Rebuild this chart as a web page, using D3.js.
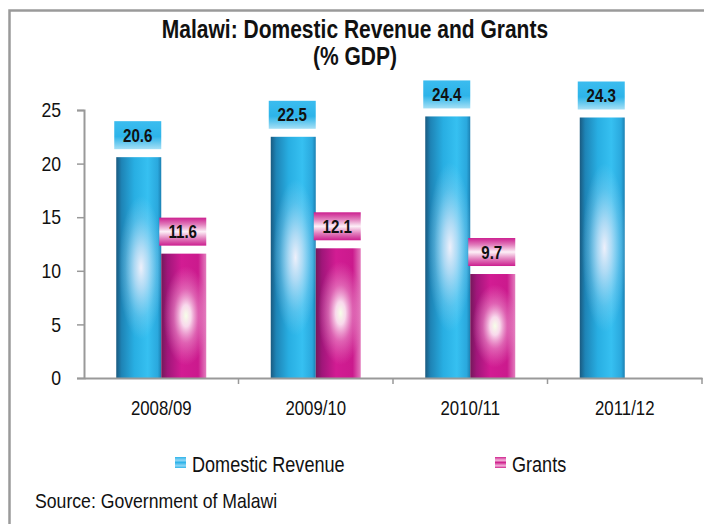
<!DOCTYPE html>
<html>
<head>
<meta charset="utf-8">
<script src="https://cdn.jsdelivr.net/npm/d3@7"></script>
<style>
  html, body { margin: 0; padding: 0; background: #fff; }
  svg { display: block; }
  text { font-family: "Liberation Sans", Arial, sans-serif; fill: #111; }
</style>
</head>
<body>
<svg id="chart" width="704" height="524"></svg>
<script>
// Malawi: domestic revenue and grants, % of GDP
const years = ["2008/09", "2009/10", "2010/11", "2011/12"];
const seriesNames = ["Domestic Revenue", "Grants"];
const domesticRevenue = [20.6, 22.5, 24.4, 24.3];
const grants = [11.6, 12.1, 9.7, null];
const yTicks = [0, 5, 10, 15, 20, 25];

const svg = d3.select("#chart");
const W = 704, H = 524;
const plot = { left: 84, right: 702, top: 110, bottom: 378 };

// narrow lettering: squeeze each text horizontally, like a condensed face
const NARROW = 0.84;
function condense(sel) {
  sel.each(function () {
    const w = this.getComputedTextLength();
    d3.select(this).attr("textLength", w * NARROW).attr("lengthAdjust", "spacingAndGlyphs");
  });
}

// outer frame
svg.append("rect")
  .attr("x", 9.5).attr("y", 10.5)
  .attr("width", W).attr("height", H)
  .attr("fill", "#fff").attr("stroke", "#9a9a9a").attr("stroke-width", 2.5);

const defs = svg.append("defs");

function linear(id, stops, vertical) {
  const g = defs.append("linearGradient").attr("id", id)
    .attr("x1", 0).attr("y1", 0)
    .attr("x2", vertical ? 0 : 1).attr("y2", vertical ? 1 : 0);
  stops.forEach(([o, c, a]) => g.append("stop").attr("offset", o)
    .attr("stop-color", c).attr("stop-opacity", a == null ? 1 : a));
}
function radial(id, stops, squash) {
  const g = defs.append("radialGradient").attr("id", id)
    .attr("cx", 0.55).attr("cy", 0.5).attr("r", 0.5)
    .attr("gradientTransform", `translate(0,0.5) scale(1,${squash}) translate(0,-0.5)`);
  stops.forEach(([o, c, a]) => g.append("stop").attr("offset", o)
    .attr("stop-color", c).attr("stop-opacity", a));
}

linear("barBlue", [[0, "#1a5a80"], [0.12, "#1e84b6"], [0.4, "#28aee2"], [0.7, "#36c0f1"], [0.92, "#2aa8dd"], [1, "#1b80b2"]]);
linear("barPink", [[0, "#74195a"], [0.14, "#a0167a"], [0.45, "#d21c93"], [0.82, "#cb1a8d"], [1, "#e37cbd"]]);
radial("glowBlue", [[0, "#eef0fb", 1], [0.3, "#d8e6f8", 0.75], [0.7, "#c4e2f7", 0.25], [1, "#bfe3f7", 0]], 0.65);
radial("glowPink", [[0, "#f6ffe9", 1], [0.22, "#fdeef6", 0.9], [0.55, "#f3b6dc", 0.45], [1, "#ee9ed0", 0]], 0.8);
linear("boxBlue", [[0, "#3bbcef"], [0.55, "#2db4e9"], [1, "#a6e0f6"]], true);
linear("boxPink", [[0, "#cc1f8f"], [0.25, "#e27fbd"], [0.5, "#fdf0f7"], [0.75, "#e27fbd"], [1, "#cc1f8f"]], true);
linear("keyBlue", [[0, "#2fb4ea"], [0.3, "#8fd6f5"], [0.5, "#2fb4ea"], [0.8, "#8fd6f5"], [1, "#2fb4ea"]], true);
linear("keyPink", [[0, "#d0258f"], [0.3, "#f3b3da"], [0.5, "#d0258f"], [0.8, "#f3b3da"], [1, "#d0258f"]], true);

const fills = { "Domestic Revenue": ["barBlue", "glowBlue", "boxBlue", "keyBlue"],
                "Grants": ["barPink", "glowPink", "boxPink", "keyPink"] };

// scales
const x0 = d3.scaleBand().domain(years).range([plot.left, plot.right]).padding(0);
const barW = 45;
const x1 = d3.scaleBand().domain(seriesNames)
  .range([x0.bandwidth() / 2 - barW, x0.bandwidth() / 2 + barW]).padding(0);
const y = d3.scaleLinear().domain([0, 25]).range([plot.bottom, plot.top]);

// title, two lines
svg.append("text").attr("x", 355).attr("y", 38)
  .attr("text-anchor", "middle").attr("font-weight", "bold").attr("font-size", 25)
  .text("Malawi: Domestic Revenue and Grants").call(condense);
svg.append("text").attr("x", 355).attr("y", 65)
  .attr("text-anchor", "middle").attr("font-weight", "bold").attr("font-size", 25)
  .text("(% GDP)").call(condense);

// y axis
const yAxis = svg.append("g").attr("transform", `translate(${plot.left},0)`)
  .call(d3.axisLeft(y).tickValues(yTicks).tickSize(7).tickPadding(16));
yAxis.select(".domain").attr("stroke", "#999").attr("stroke-width", 2);
yAxis.selectAll(".tick line").attr("stroke", "#999").attr("stroke-width", 1.5);
yAxis.selectAll(".tick text").attr("font-size", 21).attr("fill", "#111")
  .style("font-family", '"Liberation Sans", Arial, sans-serif').call(condense);

// bars
const groups = svg.append("g").selectAll("g").data(years).join("g")
  .attr("transform", d => `translate(${x0(d)},0)`);

const cells = groups.selectAll("g.bar")
  .data((d, i) => [
    { series: "Domestic Revenue", value: domesticRevenue[i] },
    { series: "Grants", value: grants[i] }
  ].filter(c => c.value != null))
  .join("g").attr("class", "bar");

cells.append("rect")
  .attr("x", d => x1(d.series)).attr("width", x1.bandwidth())
  .attr("y", d => y(d.value)).attr("height", d => y(0) - y(d.value))
  .attr("fill", d => `url(#${fills[d.series][0]})`);
cells.append("rect")
  .attr("x", d => x1(d.series)).attr("width", x1.bandwidth())
  .attr("y", d => y(d.value)).attr("height", d => y(0) - y(d.value))
  .attr("fill", d => `url(#${fills[d.series][1]})`);

// value boxes above bars
const boxW = 47, boxH = 28, gap = 8;
cells.append("rect")
  .attr("x", d => x1(d.series) + x1.bandwidth() / 2 - boxW / 2 - 1)
  .attr("y", d => y(d.value) - gap - boxH)
  .attr("width", boxW).attr("height", boxH)
  .attr("fill", d => `url(#${fills[d.series][2]})`);
cells.append("text")
  .attr("x", d => x1(d.series) + x1.bandwidth() / 2 - 1)
  .attr("y", d => y(d.value) - gap - boxH / 2 + 6.5)
  .attr("text-anchor", "middle").attr("font-weight", "bold").attr("font-size", 18)
  .text(d => d3.format(".1f")(d.value)).call(condense);

// x axis
const xAxis = svg.append("g").attr("transform", `translate(0,${plot.bottom})`)
  .call(d3.axisBottom(x0).tickSize(0).tickPadding(23));
xAxis.select(".domain").attr("stroke", "#999").attr("stroke-width", 2);
xAxis.selectAll(".tick text").attr("font-size", 20).attr("fill", "#111")
  .style("font-family", '"Liberation Sans", Arial, sans-serif').call(condense);
// separators between categories
svg.append("g").selectAll("line").data(years.slice(1).concat(["end"])).join("line")
  .attr("x1", (d, i) => i < years.length - 1 ? x0(d) : plot.right)
  .attr("x2", (d, i) => i < years.length - 1 ? x0(d) : plot.right)
  .attr("y1", plot.bottom).attr("y2", plot.bottom + 6)
  .attr("stroke", "#999").attr("stroke-width", 1.5);

// legend
const legendPos = [{ name: "Domestic Revenue", x: 175 }, { name: "Grants", x: 495 }];
const legend = svg.append("g").selectAll("g").data(legendPos).join("g")
  .attr("transform", d => `translate(${d.x},457)`);
legend.append("rect").attr("width", 11).attr("height", 11)
  .attr("fill", d => `url(#${fills[d.name][3]})`);
legend.append("text").attr("x", 17).attr("y", 15).attr("font-size", 21.5)
  .text(d => d.name).call(condense);

// source note
svg.append("text").attr("x", 35).attr("y", 508).attr("font-size", 21)
  .text("Source: Government of Malawi").call(condense);
</script>
</body>
</html>
